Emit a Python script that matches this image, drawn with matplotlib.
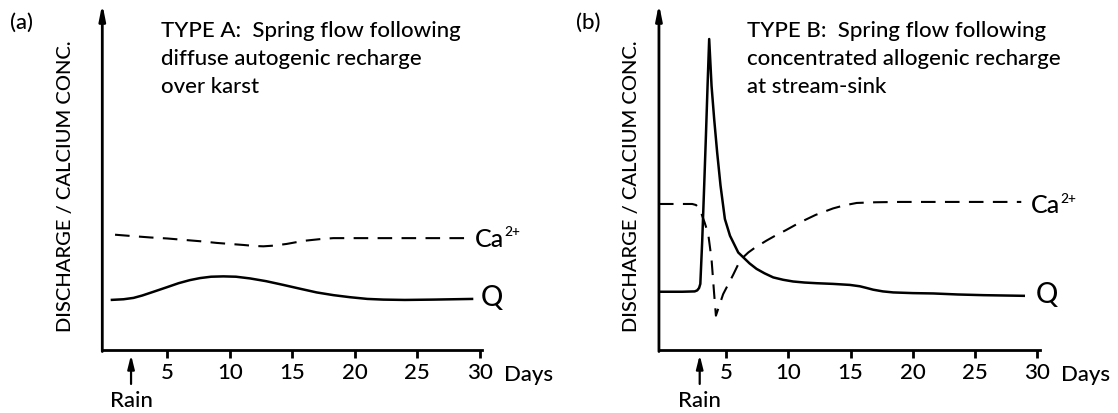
import matplotlib
matplotlib.use('Agg')
import matplotlib.pyplot as plt

plt.rcParams['font.family'] = ['Lato', 'DejaVu Sans']
plt.rcParams['font.weight'] = 'medium'

# ---- painel (a): recarga difusa autogenica ----
dias_q_a = [0.47, 1.5, 2.3, 3.0, 3.9, 4.95, 5.9, 6.8, 7.62, 8.5, 9.48, 10.5, 11.62, 12.9,
            14.28, 15.6, 16.95, 18.3, 19.62, 21.0, 22.28, 24.0, 26.28, 29.48]
q_a = [14.8, 15.0, 15.4, 16.1, 17.2, 18.5, 19.7, 20.6, 21.2, 21.6, 21.7, 21.6, 21.1, 20.3,
       19.2, 18.1, 17.0, 16.2, 15.6, 15.1, 14.9, 14.8, 14.9, 15.1]
dias_ca_a = [0.82, 2.2, 3.62, 5.0, 6.28, 7.6, 8.95, 10.0, 11.08, 12.0, 12.68, 13.5, 14.55,
             15.3, 16.15, 17.2, 18.28, 22.28, 29.35]
ca_a = [33.9, 33.5, 33.1, 32.8, 32.4, 32.0, 31.5, 31.2, 30.9, 30.6, 30.5, 30.7, 31.2,
        31.7, 32.2, 32.6, 32.9, 32.9, 32.9]

# ---- painel (b): recarga concentrada alogenica ----
dias_q_b = [-0.37, 1.5, 2.5, 2.7, 2.85, 2.95, 3.1, 3.26, 3.4, 3.53, 3.66, 3.85, 4.06, 4.3,
            4.57, 4.92, 5.33, 5.99, 6.39, 6.9, 7.46, 8.1, 8.8, 9.6, 10.4, 11.3, 12.28, 13.6,
            14.95, 15.75, 16.3, 16.82, 17.6, 18.43, 20.0, 21.64, 23.6, 25.65, 29.0]
q_b = [17.2, 17.2, 17.3, 17.6, 18.3, 19.5, 32.0, 48.3, 63.0, 77.5, 91.2, 77.5, 67.8, 58.0,
       48.3, 38.5, 33.6, 28.7, 27.3, 25.5, 23.9, 22.6, 21.4, 20.7, 20.2, 19.9, 19.7, 19.5,
       19.2, 18.8, 18.3, 17.8, 17.3, 17.0, 16.8, 16.7, 16.4, 16.2, 16.0]
dias_ca_b = [-0.37, 2.3, 2.6, 2.9, 3.3, 3.58, 3.85, 4.05, 4.2, 4.78, 5.59, 6.0, 6.39, 6.8,
             7.33, 8.27, 9.0, 9.8, 10.94, 12.2, 13.6, 14.5, 15.5, 17.0, 18.96, 28.7]
ca_b = [42.9, 42.9, 42.6, 41.5, 37.4, 34.2, 26.7, 17.0, 10.2, 16.5, 22.2, 25.3, 27.3, 28.7,
        30.1, 32.2, 33.7, 35.2, 37.5, 39.7, 41.6, 42.5, 43.2, 43.4, 43.5, 43.5]

ticks = [5, 10, 15, 20, 25, 30]
chuva_a = 2.1
chuva_b = 2.9
titulo_a = ['TYPE A:  Spring flow following', 'diffuse autogenic recharge', 'over karst']
titulo_b = ['TYPE B:  Spring flow following', 'concentrated allogenic recharge', 'at stream-sink']
rotulo_y = 'DISCHARGE / CALCIUM CONC.'

FS = 16


def desenha_painel(ax, dq, q, dca, ca, chuva, xini, titulo, x_titulo, x_rotulo, rotulos_serie):
    ax.plot(dq, q, color='black', lw=1.8, solid_capstyle='butt', solid_joinstyle='round')
    ax.plot(dca, ca, color='black', lw=1.5, dashes=(7, 4.5))
    ax.set_xlim(xini, 30.2)
    ax.set_ylim(0, 100)

    # eixos: so esquerda (com seta) e baixo
    for s in ['top', 'right', 'left']:
        ax.spines[s].set_visible(False)
    ax.spines['bottom'].set_linewidth(2)
    ax.annotate('', xy=(xini, 101.5), xytext=(xini, -0.3),
                arrowprops=dict(arrowstyle='-|>,head_width=0.18,head_length=0.9',
                                lw=2, color='black', shrinkA=0, shrinkB=0),
                annotation_clip=False)
    ax.set_yticks([])
    ax.set_xticks(ticks)
    ax.tick_params(axis='x', direction='out', length=6, width=2, pad=2, labelsize=FS)

    # seta da chuva
    ax.annotate('', xy=(chuva, -1.3), xytext=(chuva, -9.8),
                arrowprops=dict(arrowstyle='-|>,head_width=0.2,head_length=0.8',
                                lw=1.6, color='black', shrinkA=0, shrinkB=0),
                annotation_clip=False)
    ax.text(chuva, -14.6, 'Rain', ha='center', va='center', fontsize=FS, clip_on=False)
    ax.text(31.9, -6.8, 'Days', ha='left', va='center', fontsize=FS, clip_on=False)

    # titulo em tres linhas
    for i, linha in enumerate(titulo):
        ax.text(x_titulo, 92.2 - 8.3 * i, linha, ha='left', va='baseline', fontsize=FS)

    # nomes das curvas (Ca com expoente 2+ separado)
    (xc, yc), (xq, yq) = rotulos_serie
    t_ca = ax.text(xc, yc, 'Ca', ha='left', va='baseline', fontsize=FS + 2, clip_on=False)
    ax.annotate('2+', xy=(1.0, 0.55), xycoords=t_ca, xytext=(0, 0),
                textcoords='offset points', ha='left', va='bottom', fontsize=10)
    ax.text(xq, yq, 'Q', ha='left', va='baseline', fontsize=FS + 4, clip_on=False)

    ax.text(x_rotulo, 48.5, rotulo_y, rotation=90, ha='center', va='center', fontsize=14.5,
            transform=ax.get_yaxis_transform(), clip_on=False)


fig = plt.figure(figsize=(11.18, 4.14), dpi=100)
ax1 = fig.add_axes([0.0915, 0.151, 0.3399, 0.8249])
ax2 = fig.add_axes([0.5894, 0.151, 0.3408, 0.8249])

desenha_painel(ax1, dias_q_a, q_a, dias_ca_a, ca_a, chuva_a, -0.2, titulo_a, 4.47, -0.097,
               [(29.6, 30.7), (30.1, 13.3)])
desenha_painel(ax2, dias_q_b, q_b, dias_ca_b, ca_b, chuva_b, -0.37, titulo_b, 6.72, -0.072,
               [(29.5, 40.5), (29.9, 14.2)])

fig.text(10 / 1118, 1 - 29 / 414, '(a)', fontsize=FS, va='baseline')
fig.text(576 / 1118, 1 - 29 / 414, '(b)', fontsize=FS, va='baseline')

plt.savefig('out.png', dpi=100)
